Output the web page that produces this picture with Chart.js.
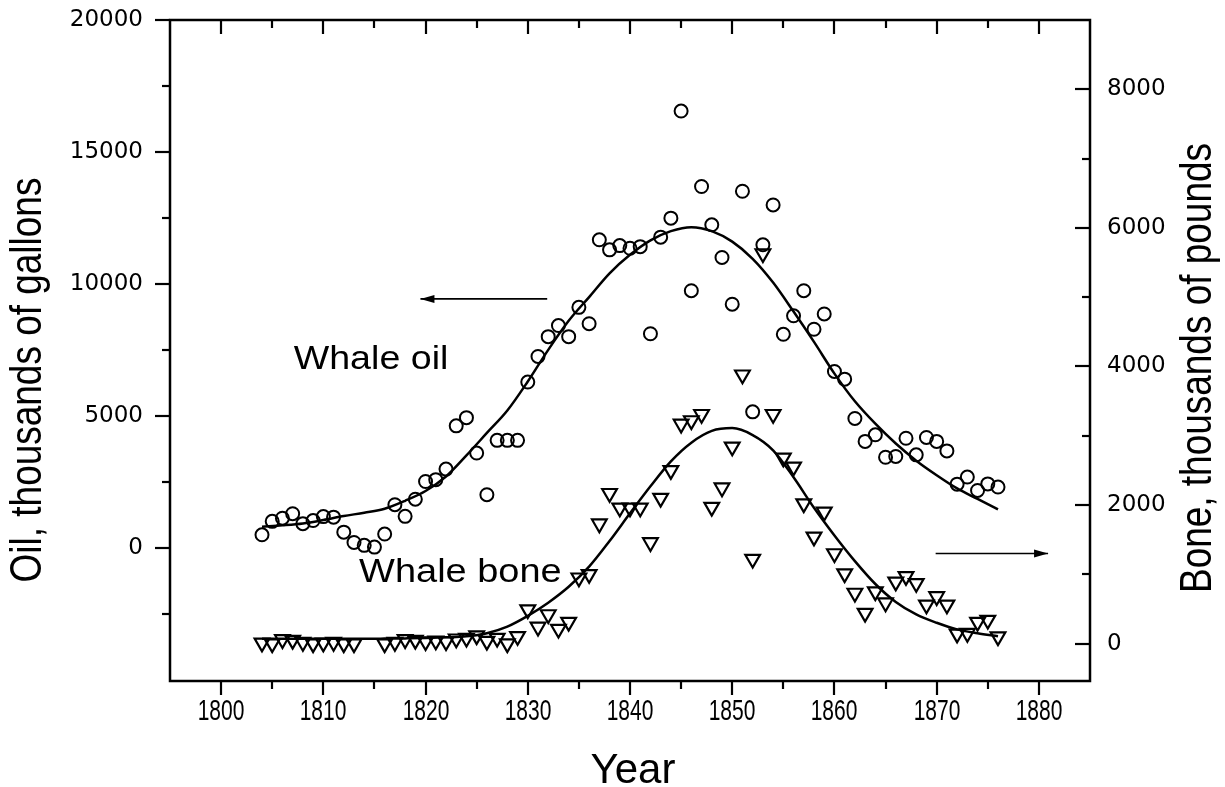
<!DOCTYPE html>
<html>
<head>
<meta charset="utf-8">
<script src="https://cdn.jsdelivr.net/npm/chart.js@4.4.1/dist/chart.umd.min.js"></script>
<style>
  html, body { margin: 0; padding: 0; background: #fff; }
</style>
</head>
<body>
<canvas id="whaleChart" width="1225" height="787"></canvas>
<script>
// whale oil, thousands of gallons
const oilYears = [
  1804, 1805, 1806, 1807, 1808, 1809,
  1810, 1811, 1812, 1813, 1814, 1815, 1816, 1817, 1818, 1819,
  1820, 1821, 1822, 1823, 1824, 1825, 1826, 1827, 1828, 1829,
  1830, 1831, 1832, 1833, 1834, 1835, 1836, 1837, 1838, 1839,
  1840, 1841, 1842, 1843, 1844, 1845, 1846, 1847, 1848, 1849,
  1850, 1851, 1852, 1853, 1854, 1855, 1856, 1857, 1858, 1859,
  1860, 1861, 1862, 1863, 1864, 1865, 1866, 1867, 1868, 1869,
  1870, 1871, 1872, 1873, 1874, 1875, 1876,
];
const oilValues = [
  490, 1000, 1120, 1290, 910, 1030,
  1180, 1160, 590, 200, 90, 25, 520, 1630, 1190, 1840,
  2510, 2580, 2980, 4620, 4930, 3590, 2010, 4070, 4070, 4070,
  6280, 7250, 8000, 8420, 8000, 9110, 8490, 11670, 11290, 11450,
  11350, 11410, 8110, 11770, 12490, 16550, 9740, 13690, 12240, 11000,
  9230, 13510, 5150, 11480, 12990, 8090, 8790, 9740, 8280, 8860,
  6680, 6390, 4900, 4030, 4280, 3430, 3460, 4150, 3520, 4180,
  4030, 3670, 2410, 2680, 2170, 2420, 2300,
];

// whale bone, thousands of pounds (no points for 1814, 1815)
const boneYears = [
  1804, 1805, 1806, 1807, 1808, 1809, 1810, 1811, 1812, 1813,
  1816, 1817, 1818, 1819,
  1820, 1821, 1822, 1823, 1824, 1825, 1826, 1827, 1828, 1829,
  1830, 1831, 1832, 1833, 1834, 1835, 1836, 1837, 1838, 1839,
  1840, 1841, 1842, 1843, 1844, 1845, 1846, 1847, 1848, 1849,
  1850, 1851, 1852, 1853, 1854, 1855, 1856, 1857, 1858, 1859,
  1860, 1861, 1862, 1863, 1864, 1865, 1866, 1867, 1868, 1869,
  1870, 1871, 1872, 1873, 1874, 1875, 1876,
];
const boneValues = [
  10, 0, 60, 50, 20, 0, 10, 20, 0, 0,
  0, 20, 60, 50,
  30, 40, 30, 70, 80, 115, 35, 80, 0, 105,
  490, 240, 420, 210, 310, 950, 1000, 1730, 2170, 1960,
  1960, 1960, 1460, 2100, 2500, 3170, 3220, 3310, 1970, 2250,
  2840, 3880, 1220, 5630, 3310, 2680, 2550, 2020, 1540, 1900,
  1300, 1010, 730, 440, 750, 590, 890, 970, 870, 560,
  680, 560, 140, 150, 310, 340, 100,
];

// fitted curves, every two years
const fitYears = [
  1804, 1806, 1808, 1810, 1812, 1814, 1816, 1818, 1820, 1822,
  1824, 1826, 1828, 1830, 1832, 1834, 1836, 1838, 1840, 1842,
  1844, 1846, 1848, 1850, 1852, 1854, 1856, 1858, 1860, 1862,
  1864, 1866, 1868, 1870, 1872, 1874, 1876,
];
const oilFit = [
  800, 850, 920, 1050, 1200, 1330, 1480, 1780, 2150, 2700,
  3500, 4350, 5200, 6300, 7500, 8600, 9500, 10400, 11100, 11650,
  12000, 12150, 12000, 11600, 10950, 10050, 8950, 7800, 6600, 5550,
  4700, 3950, 3300, 2750, 2250, 1850, 1450,
];
const boneFit = [
  70, 70, 70, 70, 70, 70, 72, 75, 80, 90,
  105, 150, 245, 400, 590, 820, 1110, 1480, 1880, 2270,
  2630, 2900, 3070, 3110, 3010, 2790, 2400, 1960, 1560, 1190,
  860, 600, 420, 300, 205, 150, 105,
];

// ticks
const yearTicks = [1800, 1805, 1810, 1815, 1820, 1825, 1830, 1835, 1840,
  1845, 1850, 1855, 1860, 1865, 1870, 1875, 1880];
const oilTicks = [-2500, 0, 2500, 5000, 7500, 10000, 12500, 15000, 17500, 20000];
const boneTicks = [0, 1000, 2000, 3000, 4000, 5000, 6000, 7000, 8000];

const sans = "'Liberation Sans', Arial, sans-serif";
const wide = "'DejaVu Sans', sans-serif";

function toPoints(xs, ys) {
  return xs.map((x, i) => ({ x: x, y: ys[i] }));
}

// text drawn with a horizontal stretch (sx) in its own frame
function stretchedText(ctx, text, x, y, rot, sx, font, align) {
  ctx.save();
  ctx.translate(x, y);
  ctx.rotate(rot);
  ctx.scale(sx, 1);
  ctx.font = font;
  ctx.textAlign = align;
  ctx.textBaseline = "middle";
  ctx.fillText(text, 0, 0);
  ctx.restore();
}

// frame, ticks on all four sides, titles and the two arrows
const framePlugin = {
  id: "frame",
  afterDraw(chart) {
    const ctx = chart.ctx;
    const a = chart.chartArea;
    const x = chart.scales.x;
    const y = chart.scales.y;
    const y2 = chart.scales.y2;

    ctx.save();
    ctx.strokeStyle = "#000";
    ctx.fillStyle = "#000";
    ctx.lineWidth = 2.5;
    ctx.strokeRect(a.left, a.top, a.right - a.left, a.bottom - a.top);

    function seg(x1, y1, x2, y2p) {
      ctx.beginPath();
      ctx.moveTo(x1, y1);
      ctx.lineTo(x2, y2p);
      ctx.stroke();
    }

    ctx.lineWidth = 2.2;
    yearTicks.forEach((v) => {
      const px = Math.round(x.getPixelForValue(v));
      const len = v % 10 === 0 ? 14 : 8;
      seg(px, a.bottom, px, a.bottom + len);
      seg(px, a.top, px, a.top + len);
      if (v % 10 === 0) {
        stretchedText(ctx, String(v), px, a.bottom + 31, 0, 0.7, "30px " + sans, "center");
      }
    });
    oilTicks.forEach((v) => {
      const py = Math.round(y.getPixelForValue(v));
      const len = v % 5000 === 0 ? 15 : 8;
      seg(a.left - len, py, a.left, py);
    });
    boneTicks.forEach((v) => {
      const py = Math.round(y2.getPixelForValue(v));
      const len = v % 2000 === 0 ? 15 : 8;
      seg(a.right - len, py, a.right, py);
    });

    // axis titles
    stretchedText(ctx, "Oil, thousands of gallons", 29, 380, -Math.PI / 2, 0.84, "44px " + sans, "center");
    stretchedText(ctx, "Bone, thousands of pounds", 1199, 368, -Math.PI / 2, 0.84, "44px " + sans, "center");
    stretchedText(ctx, "Year", 633, 771, 0, 1, "42px " + sans, "center");

    // series labels
    stretchedText(ctx, "Whale oil", x.getPixelForValue(1807.1), y.getPixelForValue(7100), 0, 1.14, "33px " + sans, "left");
    stretchedText(ctx, "Whale bone", x.getPixelForValue(1813.5), y2.getPixelForValue(1020), 0, 1.15, "33px " + sans, "left");

    // arrows pointing at the axis of each series
    function arrow(x1, yy, x2) {
      ctx.lineWidth = 1.6;
      seg(x1, yy, x2, yy);
      const dir = x2 > x1 ? 1 : -1;
      ctx.beginPath();
      ctx.moveTo(x2, yy);
      ctx.lineTo(x2 - dir * 14, yy - 4);
      ctx.lineTo(x2 - dir * 14, yy + 4);
      ctx.closePath();
      ctx.fill();
    }
    arrow(x.getPixelForValue(1831.9), y.getPixelForValue(9430), x.getPixelForValue(1819.5));
    arrow(x.getPixelForValue(1869.9), y2.getPixelForValue(1300), x.getPixelForValue(1880.9));

    ctx.restore();
  },
};

function noPadY(s, w) {
  s.width = w;
  s.paddingTop = 0;
  s.paddingBottom = 0;
}

const ctx = document.getElementById("whaleChart").getContext("2d");

new Chart(ctx, {
  type: "scatter",
  data: {
    datasets: [
      {
        label: "Whale oil",
        data: toPoints(oilYears, oilValues),
        yAxisID: "y",
        pointStyle: "circle",
        pointRadius: 6.5,
        pointBorderWidth: 2,
        borderColor: "#000",
        backgroundColor: "rgba(0,0,0,0)",
      },
      {
        label: "Oil fit",
        data: toPoints(fitYears, oilFit),
        yAxisID: "y",
        showLine: true,
        pointRadius: 0,
        borderWidth: 2.5,
        borderColor: "#000",
        cubicInterpolationMode: "monotone",
      },
      {
        label: "Whale bone",
        data: toPoints(boneYears, boneValues),
        yAxisID: "y2",
        pointStyle: "triangle",
        rotation: 180,
        pointRadius: 8.5,
        pointBorderWidth: 2.2,
        borderColor: "#000",
        backgroundColor: "rgba(0,0,0,0)",
      },
      {
        label: "Bone fit",
        data: toPoints(fitYears, boneFit),
        yAxisID: "y2",
        showLine: true,
        pointRadius: 0,
        borderWidth: 2.5,
        borderColor: "#000",
        cubicInterpolationMode: "monotone",
      },
    ],
  },
  options: {
    responsive: false,
    animation: false,
    devicePixelRatio: 1,
    layout: { padding: { top: 20, left: 0, right: 0, bottom: 0 } },
    plugins: {
      legend: { display: false },
      tooltip: { enabled: false },
    },
    scales: {
      x: {
        type: "linear",
        position: "bottom",
        min: 1795,
        max: 1885,
        afterBuildTicks: (s) => {
          s.ticks = yearTicks.map((v) => ({ value: v }));
        },
        afterFit: (s) => {
          s.height = 106;
          s.paddingLeft = 0;
          s.paddingRight = 0;
        },
        grid: { display: false, drawTicks: false },
        border: { display: false },
        ticks: { display: false },
      },
      y: {
        type: "linear",
        position: "left",
        min: -5050,
        max: 20000,
        afterBuildTicks: (s) => {
          s.ticks = oilTicks.map((v) => ({ value: v }));
        },
        afterFit: (s) => noPadY(s, 170),
        grid: { display: false, drawTicks: false },
        border: { display: false },
        ticks: {
          padding: 27,
          color: "#000",
          font: { family: wide, size: 23 },
          callback: (v) => (v % 5000 === 0 ? String(v) : ""),
        },
      },
      y2: {
        type: "linear",
        position: "right",
        min: -540,
        max: 9000,
        afterBuildTicks: (s) => {
          s.ticks = boneTicks.map((v) => ({ value: v }));
        },
        afterFit: (s) => noPadY(s, 135),
        grid: { display: false, drawTicks: false },
        border: { display: false },
        ticks: {
          padding: 17,
          color: "#000",
          font: { family: wide, size: 23 },
          callback: (v) => (v % 2000 === 0 ? String(v) : ""),
        },
      },
    },
  },
  plugins: [framePlugin],
});
</script>
</body>
</html>
